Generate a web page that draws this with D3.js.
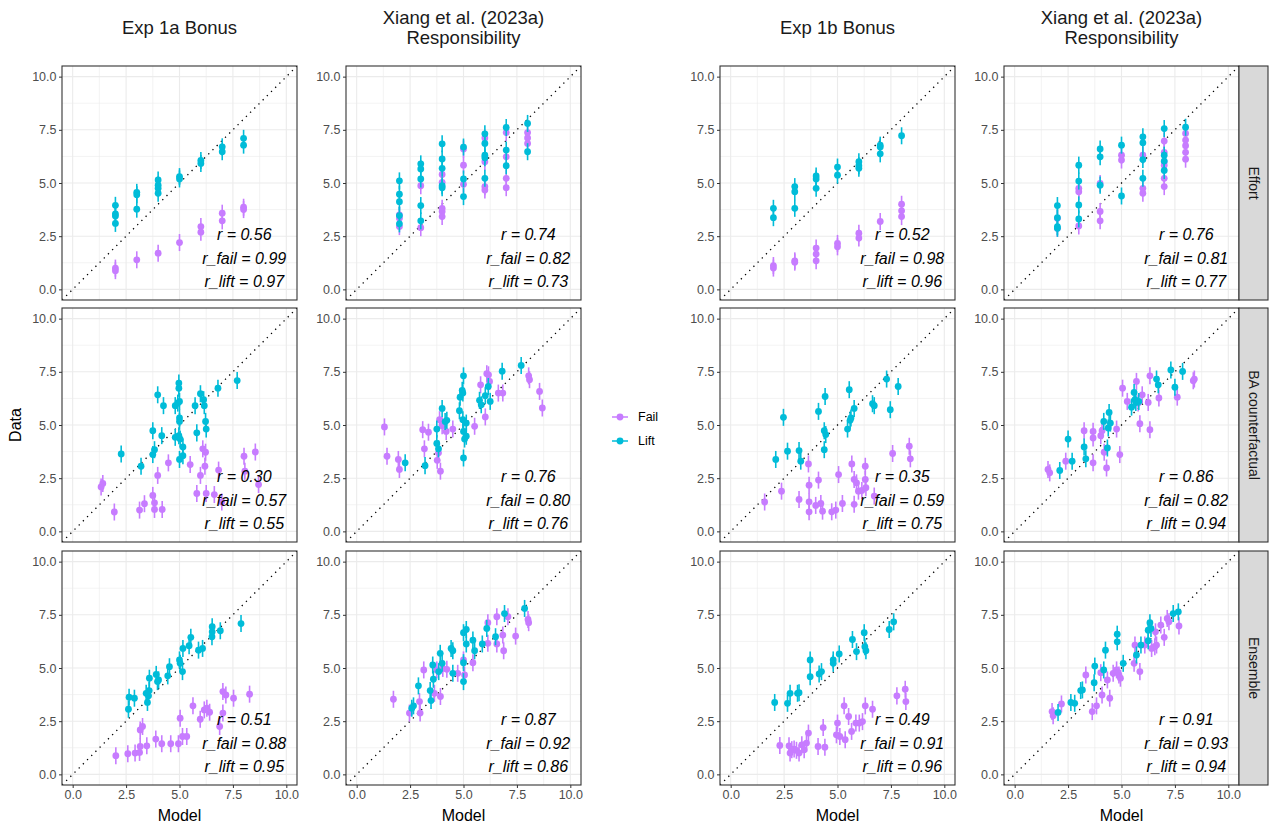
<!DOCTYPE html>
<html lang="en">
<head>
  <meta charset="UTF-8" />
  <title>Model vs Data</title>
  <script src="https://d3js.org/d3.v7.min.js"></script>
  <style>
    body {
      margin: 0;
      background: #fff;
      font-family: "Liberation Sans", Arial, Helvetica, sans-serif;
    }
    .tick text {
      font-size: 12.5px;
      fill: #4D4D4D;
    }
    .tick line {
      stroke: #333;
    }
    .col-title {
      font-size: 18.5px;
      fill: #1A1A1A;
    }
    .axis-title {
      font-size: 16px;
      fill: #000;
    }
    .stat {
      font-size: 16px;
      font-style: italic;
      fill: #000;
    }
    .strip-text {
      font-size: 14px;
      fill: #1A1A1A;
    }
    .legend-text {
      font-size: 12.5px;
      fill: #000;
    }
  </style>
</head>
<body>
  <svg id="chart"></svg>
  <script>
    // ---- data: [model, data] pairs per panel ----
    // Row 1: Effort
    const effort1aFail = [[2,1.0],[2,0.88],[3,1.39],[4,1.7],[5,2.2],[6,2.95],[6,2.69],[7,3.58],[7,3.22],[8,3.86],[8,3.75]];
    const effort1aLift = [[2,3.95],[2,3.55],[2,3.45],[2,3.1],[3,4.56],[3,4.45],[3,3.77],[4,5.14],[4,4.9],[4,4.75],[4,4.52],[5,5.3],[5,5.19],[6,6.06],[6,5.92],[7,6.7],[7,6.47],[8,7.1],[8,6.78]];
    const effortXaFail = [[2,3.5],[2,3.34],[2,2.95],[3,4.87],[3,2.9],[4,5.4],[4,5.03],[4,3.81],[4,3.66],[4,3.42],[5,6.6],[5,5.84],[5,4.94],[6,7.12],[6,6.0],[6,4.83],[6,4.67],[7,7.37],[7,6.23],[7,5.22],[7,4.78],[8,7.37],[8,7.12],[8,6.86]];
    const effortXaLift = [[2,5.1],[2,4.47],[2,4.12],[2,3.47],[2,3.08],[3,5.9],[3,5.66],[3,5.19],[3,3.94],[3,3.22],[4,6.84],[4,6.13],[4,5.69],[4,4.87],[4,4.78],[5,6.69],[5,5.19],[5,4.36],[6,7.31],[6,6.86],[6,6.31],[6,6.19],[6,5.22],[7,7.61],[7,6.55],[7,5.81],[8,7.8],[8,6.47]];
    const effort1bFail = [[2,1.12],[2,1.0],[3,1.34],[3,1.28],[4,1.94],[4,1.66],[4,1.34],[5,2.16],[5,2.0],[6,2.64],[6,2.41],[7,3.19],[8,4.0],[8,3.69],[8,3.42]];
    const effort1bLift = [[2,3.81],[2,3.37],[3,4.83],[3,4.59],[3,3.81],[4,5.33],[4,5.19],[4,4.75],[5,5.75],[5,5.37],[6,6.0],[6,5.81],[6,5.69],[7,6.78],[7,6.69],[7,6.37],[8,7.22]];
    const effortXbFail = [[2,3.34],[2,2.87],[3,4.75],[3,4.59],[3,2.98],[4,4.98],[4,3.66],[4,3.22],[5,6.31],[5,6.08],[6,6.31],[6,4.75],[6,4.52],[7,6.97],[7,6.44],[7,6.0],[7,5.84],[7,5.22],[7,4.83],[8,7.33],[8,7.02],[8,6.75],[8,6.44],[8,6.12]];
    const effortXbLift = [[2,3.94],[2,3.37],[2,2.95],[2,2.87],[3,5.84],[3,5.09],[3,3.97],[3,3.31],[4,6.6],[4,6.23],[4,4.9],[5,6.78],[5,4.39],[6,7.17],[6,6.89],[6,6.1],[6,5.22],[7,7.56],[7,6.31],[7,6.03],[7,5.59],[8,7.62]];

    // Row 2: BA counterfactual
    const ba1aFail = [[1.33,2.09],[1.41,2.25],[1.95,0.91],[3.13,1.0],[3.36,1.3],[3.75,1.69],[3.83,1.34],[3.83,1.03],[4.19,1.03],[3.98,2.63],[4.48,3.22],[5.5,3.14],[5.81,1.78],[5.98,2.63],[6.09,3.88],[6.19,3.06],[6.22,3.72],[6.25,1.78],[6.63,1.73],[6.83,2.88],[6.98,1.38],[8.02,3.53],[8.55,3.73],[8.7,2.2],[8.06,2.83]];
    const ba1aLift = [[2.27,3.64],[3.2,3.06],[3.75,4.73],[3.75,3.61],[3.83,3.84],[3.98,6.42],[4.17,4.5],[4.25,5.91],[4.8,5.91],[4.8,4.42],[4.92,6.03],[4.97,6.97],[4.97,6.73],[5.0,6.11],[5.0,5.33],[5.0,5.17],[5.0,3.38],[4.97,4.5],[5.03,4.34],[5.16,3.97],[5.16,3.56],[5.73,5.91],[5.81,4.63],[5.98,6.47],[6.13,6.19],[6.16,5.91],[6.22,5.17],[6.25,4.81],[6.8,6.73],[7.7,7.09]];
    const baXaFail = [[1.3,4.91],[1.42,3.53],[1.95,3.38],[2.0,2.91],[3.09,4.78],[3.36,4.66],[3.17,3.88],[3.77,3.34],[3.83,3.69],[3.92,2.83],[3.88,5.25],[4.0,4.97],[4.19,4.7],[4.5,4.81],[5.52,4.94],[5.8,6.89],[6.02,5.38],[6.09,7.41],[6.17,7.36],[6.22,7.05],[6.63,6.5],[6.84,6.5],[8.05,7.31],[8.09,7.13],[8.56,6.58],[8.69,5.8]];
    const baXaLift = [[2.27,3.22],[3.2,3.09],[3.75,4.81],[3.75,4.13],[3.83,3.88],[4.0,5.78],[4.14,5.16],[4.22,5.22],[4.81,5.67],[4.84,6.31],[4.94,6.63],[4.97,6.5],[5.0,7.31],[4.97,5.25],[5.0,4.7],[5.05,4.34],[5.13,5.09],[5.13,4.47],[5.0,3.45],[5.75,6.16],[5.83,5.95],[6.02,6.38],[6.16,6.81],[6.25,6.11],[6.81,7.53],[7.7,7.8]];
    const ba1bFail = [[1.59,1.38],[2.38,1.89],[3.2,1.5],[3.64,3.17],[3.67,2.17],[3.67,1.39],[3.67,0.92],[3.98,1.22],[4.11,2.41],[4.22,1.31],[4.3,0.95],[4.73,0.92],[4.92,1.0],[5.05,2.67],[5.23,1.31],[5.67,3.17],[5.78,2.44],[5.78,1.27],[5.89,2.28],[5.98,1.89],[6.14,1.92],[6.3,3.06],[6.3,2.44],[6.33,2.05],[6.72,1.66],[7.58,3.66],[8.36,4.0],[8.41,3.41]];
    const ba1bLift = [[2.11,3.38],[2.47,5.36],[2.66,3.77],[3.2,3.8],[3.28,3.3],[4.11,5.64],[4.38,4.73],[4.38,3.84],[4.42,6.34],[4.45,4.55],[5.47,4.81],[5.55,6.66],[5.59,5.22],[5.63,5.33],[5.78,5.78],[6.64,6.0],[6.72,5.91],[7.3,7.16],[7.47,5.72],[7.84,6.81]];
    const baXbFail = [[1.56,2.91],[1.64,2.75],[2.39,3.3],[3.25,4.73],[3.67,4.7],[3.67,4.39],[3.67,3.22],[4.03,4.5],[4.09,4.73],[4.19,3.72],[4.3,2.98],[4.77,4.81],[4.92,3.61],[5.05,6.73],[5.27,6.11],[5.7,7.05],[5.78,6.03],[5.86,5.06],[5.97,6.42],[6.25,6.06],[6.33,4.78],[6.33,7.31],[6.75,6.27],[7.61,6.31],[8.36,7.08],[8.41,7.16]];
    const baXbLift = [[2.11,2.86],[2.5,4.34],[2.69,3.3],[3.25,3.97],[3.33,3.41],[4.17,5.17],[4.34,3.92],[4.38,4.86],[4.42,5.59],[4.48,5.09],[5.47,5.84],[5.59,6.53],[5.63,6.19],[5.67,6.06],[5.81,6.11],[6.64,7.16],[6.72,6.89],[7.31,7.59],[7.5,6.78],[7.86,7.52]];

    // Row 3: Ensemble
    const ens1aFail = [[2.02,0.88],[2.58,0.97],[2.92,1.0],[3.13,1.03],[3.16,2.09],[3.27,2.25],[3.16,1.31],[3.47,1.34],[3.89,1.66],[4.17,1.44],[4.59,1.44],[4.95,1.44],[5.03,2.64],[5.14,1.78],[5.34,1.78],[5.63,3.22],[5.97,2.59],[6.16,3.03],[6.28,3.11],[6.41,2.92],[6.88,2.25],[7.03,2.88],[7.03,3.89],[7.17,3.73],[7.53,3.58],[8.28,3.77]];
    const ens1aLift = [[2.61,3.06],[2.64,3.63],[2.89,3.58],[3.44,3.81],[3.5,3.38],[3.55,3.69],[3.58,3.94],[3.59,4.52],[3.91,4.7],[3.97,4.36],[4.02,4.44],[4.45,4.63],[4.53,5.06],[5.0,5.38],[5.03,5.22],[5.14,4.83],[5.16,5.92],[5.45,6.05],[5.53,6.44],[5.89,5.84],[6.08,5.92],[6.52,6.47],[6.53,6.7],[6.53,6.94],[6.91,6.75],[7.88,7.09]];
    const ensXaFail = [[1.72,3.53],[2.47,2.88],[2.94,3.42],[2.97,2.88],[3.14,4.91],[3.64,3.81],[3.75,4.91],[3.92,3.66],[4.03,4.98],[4.22,4.94],[4.73,4.75],[5.0,5.38],[5.05,4.67],[5.44,5.25],[6.14,6.16],[6.14,7.13],[6.56,7.41],[6.56,6.13],[6.84,6.55],[6.88,5.81],[7.08,7.41],[7.44,6.5],[8.02,7.28],[8.05,7.13]];
    const ensXaLift = [[2.58,3.11],[2.66,3.22],[2.89,4.16],[3.44,3.94],[3.48,3.47],[3.56,5.14],[3.59,4.47],[3.84,4.83],[3.91,5.69],[4.0,5.22],[4.42,5.92],[4.5,5.81],[4.5,4.75],[5.0,4.36],[5.0,5.25],[5.0,6.66],[5.13,6.81],[5.13,6.13],[5.44,6.31],[5.52,5.81],[5.88,6.13],[6.09,6.86],[6.5,6.47],[6.92,7.56],[7.86,7.8]];
    const ens1bFail = [[2.3,1.36],[2.73,1.34],[2.78,1.0],[2.86,1.16],[2.97,1.19],[3.08,1.13],[3.2,1.0],[3.33,1.39],[3.44,1.16],[3.55,1.47],[3.64,1.94],[4.09,1.31],[4.33,2.2],[4.41,1.28],[4.95,1.86],[5.0,2.41],[5.11,1.78],[5.31,3.22],[5.36,1.63],[5.52,2.72],[5.66,2.02],[5.86,2.41],[6.02,2.41],[6.17,2.48],[6.3,3.22],[6.64,3.06],[7.78,3.69],[8.17,4.0],[8.2,3.42]];
    const ens1bLift = [[2.06,3.38],[2.66,3.34],[2.78,3.81],[3.13,3.81],[3.2,3.84],[3.72,5.38],[3.72,4.59],[4.14,4.72],[4.25,4.83],[4.8,5.22],[4.8,5.38],[5.08,5.66],[5.7,6.34],[5.89,5.77],[6.25,6.66],[6.28,6.0],[6.33,5.81],[7.42,6.81],[7.63,7.17]];
    const ensXbFail = [[1.75,2.95],[1.8,2.75],[2.19,3.31],[3.33,4.67],[3.63,2.95],[3.83,3.22],[4.03,4.78],[4.09,3.73],[4.34,4.44],[4.45,3.58],[4.61,4.75],[4.77,4.91],[4.88,4.67],[4.95,4.52],[5.59,5.22],[5.63,6.08],[5.86,4.83],[6.09,6.08],[6.41,5.92],[6.56,6.0],[6.64,6.08],[6.84,7.02],[7.0,6.44],[7.14,7.33],[7.22,7.17],[7.69,6.98],[6.59,6.7]];
    const ensXbLift = [[2.03,2.91],[2.63,3.38],[2.81,3.34],[3.09,3.94],[3.17,3.97],[3.72,4.31],[3.75,5.09],[4.17,4.91],[4.25,5.84],[4.8,6.23],[4.8,6.59],[5.08,5.22],[5.7,5.61],[5.91,6.08],[6.25,6.28],[6.25,6.78],[6.33,7.13],[6.38,6.86],[7.42,7.56],[7.66,7.64]];

    const ciHalf = 0.4;

    const colTitles = [["Exp 1a Bonus"], ["Xiang et al. (2023a)", "Responsibility"], ["Exp 1b Bonus"], ["Xiang et al. (2023a)", "Responsibility"]];
    const rowLabels = ["Effort", "BA counterfactual", "Ensemble"];
    const rAll  = ["0.56", "0.74", "0.52", "0.76", "0.30", "0.76", "0.35", "0.86", "0.51", "0.87", "0.49", "0.91"];
    const rFail = ["0.99", "0.82", "0.98", "0.81", "0.57", "0.80", "0.59", "0.82", "0.88", "0.92", "0.91", "0.93"];
    const rLift = ["0.97", "0.73", "0.96", "0.77", "0.55", "0.76", "0.75", "0.94", "0.95", "0.86", "0.96", "0.94"];
    const axisTicks = [0, 2.5, 5, 7.5, 10];
    const minorTicks = [1.25, 3.75, 6.25, 8.75];
    const groups = ["Fail", "Lift"];

    const panelData = [
      [[effort1aFail, effort1aLift], [effortXaFail, effortXaLift], [effort1bFail, effort1bLift], [effortXbFail, effortXbLift]],
      [[ba1aFail, ba1aLift], [baXaFail, baXaLift], [ba1bFail, ba1bLift], [baXbFail, baXbLift]],
      [[ens1aFail, ens1aLift], [ensXaFail, ensXaLift], [ens1bFail, ens1bLift], [ensXbFail, ensXbLift]]
    ];

    // ---- layout ----
    const W = 1271, H = 827;
    const colX = [62, 346, 720, 1004];
    const rowY = [66, 308, 551];
    const panelW = 235, panelH = 234;
    const stripW = 29;

    const color = d3.scaleOrdinal().domain(groups).range(["#C77CFF", "#00BCD8"]);

    const svg = d3.select("#chart")
      .attr("width", W)
      .attr("height", H)
      .style("display", "block");

    svg.append("rect").attr("width", W).attr("height", H).attr("fill", "#fff");

    const x = d3.scaleLinear().domain([-0.5, 10.5]).range([0, panelW]);
    const y = d3.scaleLinear().domain([-0.5, 10.5]).range([panelH, 0]);

    const defs = svg.append("defs");
    defs.append("clipPath").attr("id", "panel-clip")
      .append("rect").attr("width", panelW).attr("height", panelH);

    panelData.forEach((row, ri) => {
      row.forEach((series, ci) => {
        const k = ri * 4 + ci;
        const g = svg.append("g")
          .attr("transform", `translate(${colX[ci]},${rowY[ri]})`);

        g.append("rect")
          .attr("width", panelW).attr("height", panelH)
          .attr("fill", "#fff");

        // grid
        const grid = g.append("g");
        minorTicks.forEach(t => {
          grid.append("line").attr("x1", x(t)).attr("x2", x(t)).attr("y1", 0).attr("y2", panelH)
            .attr("stroke", "#EBEBEB").attr("stroke-width", 0.6);
          grid.append("line").attr("y1", y(t)).attr("y2", y(t)).attr("x1", 0).attr("x2", panelW)
            .attr("stroke", "#EBEBEB").attr("stroke-width", 0.6);
        });
        axisTicks.forEach(t => {
          grid.append("line").attr("x1", x(t)).attr("x2", x(t)).attr("y1", 0).attr("y2", panelH)
            .attr("stroke", "#EBEBEB").attr("stroke-width", 1.1);
          grid.append("line").attr("y1", y(t)).attr("y2", y(t)).attr("x1", 0).attr("x2", panelW)
            .attr("stroke", "#EBEBEB").attr("stroke-width", 1.1);
        });

        const inner = g.append("g").attr("clip-path", "url(#panel-clip)");

        // identity line
        inner.append("line")
          .attr("x1", x(-0.5)).attr("y1", y(-0.5))
          .attr("x2", x(10.5)).attr("y2", y(10.5))
          .attr("stroke", "#000")
          .attr("stroke-width", 1.3)
          .attr("stroke-dasharray", "1.3,4.6");

        // points with error bars
        series.forEach((pts, si) => {
          const sg = inner.append("g");
          sg.selectAll("line.err")
            .data(pts)
            .enter()
            .append("line")
              .attr("class", "err")
              .attr("x1", d => x(d[0])).attr("x2", d => x(d[0]))
              .attr("y1", d => y(d[1] - ciHalf)).attr("y2", d => y(d[1] + ciHalf))
              .attr("stroke", color(groups[si]))
              .attr("stroke-width", 1.6);
          sg.selectAll("circle")
            .data(pts)
            .enter()
            .append("circle")
              .attr("cx", d => x(d[0]))
              .attr("cy", d => y(d[1]))
              .attr("r", 3.4)
              .attr("fill", color(groups[si]));
        });

        // stats text
        const statLines = [`r = ${rAll[k]}`, `r_fail = ${rFail[k]}`, `r_lift = ${rLift[k]}`];
        const statY = [2.58, 1.47, 0.37];
        statLines.forEach((s, i) => {
          g.append("text")
            .attr("class", "stat")
            .attr("x", x(8.03))
            .attr("y", y(statY[i]))
            .attr("text-anchor", "middle")
            .attr("dominant-baseline", "central")
            .text(s);
        });

        // border
        g.append("rect")
          .attr("width", panelW).attr("height", panelH)
          .attr("fill", "none")
          .attr("stroke", "#333")
          .attr("stroke-width", 1.1);

        // y axis
        const yAxis = g.append("g")
          .call(d3.axisLeft(y).tickValues(axisTicks).tickFormat(d3.format(".1f")).tickSize(3).tickPadding(2.5));
        yAxis.select(".domain").remove();

        // x axis on bottom row only
        if (ri === 2) {
          const xAxis = g.append("g")
            .attr("transform", `translate(0,${panelH})`)
            .call(d3.axisBottom(x).tickValues(axisTicks).tickFormat(d3.format(".1f")).tickSize(3).tickPadding(2.5));
          xAxis.select(".domain").remove();
          g.append("text")
            .attr("class", "axis-title")
            .attr("x", panelW / 2)
            .attr("y", panelH + 36)
            .attr("text-anchor", "middle")
            .text("Model");
        }

        // facet strip on the right column
        if (ci === 3) {
          const sg = g.append("g").attr("transform", `translate(${panelW},0)`);
          sg.append("rect")
            .attr("width", stripW).attr("height", panelH)
            .attr("fill", "#D9D9D9")
            .attr("stroke", "#333")
            .attr("stroke-width", 1.1);
          sg.append("text")
            .attr("class", "strip-text")
            .attr("transform", `translate(${stripW / 2},${panelH / 2}) rotate(90)`)
            .attr("text-anchor", "middle")
            .attr("dominant-baseline", "central")
            .text(rowLabels[ri]);
        }
      });
    });

    // column titles
    colTitles.forEach((lines, ci) => {
      const t = svg.append("text")
        .attr("class", "col-title")
        .attr("text-anchor", "middle")
        .attr("x", colX[ci] + panelW / 2);
      if (lines.length === 1) {
        t.attr("y", 34).text(lines[0]);
      } else {
        lines.forEach((l, i) => {
          t.append("tspan")
            .attr("x", colX[ci] + panelW / 2)
            .attr("y", 24 + i * 20)
            .text(l);
        });
      }
    });

    // y title
    svg.append("text")
      .attr("class", "axis-title")
      .attr("transform", `translate(21,${rowY[1] + panelH / 2}) rotate(-90)`)
      .attr("text-anchor", "middle")
      .text("Data");

    // legend
    const legend = svg.append("g").attr("transform", "translate(611,408)");
    groups.forEach((gname, i) => {
      const lg = legend.append("g").attr("transform", `translate(0,${i * 24})`);
      lg.append("line")
        .attr("x1", 1).attr("x2", 17).attr("y1", 9).attr("y2", 9)
        .attr("stroke", color(gname)).attr("stroke-width", 1.5);
      lg.append("circle")
        .attr("cx", 9).attr("cy", 9).attr("r", 3.4)
        .attr("fill", color(gname));
      lg.append("text")
        .attr("class", "legend-text")
        .attr("x", 27).attr("y", 9)
        .attr("dominant-baseline", "central")
        .text(gname);
    });
  </script>
</body>
</html>
